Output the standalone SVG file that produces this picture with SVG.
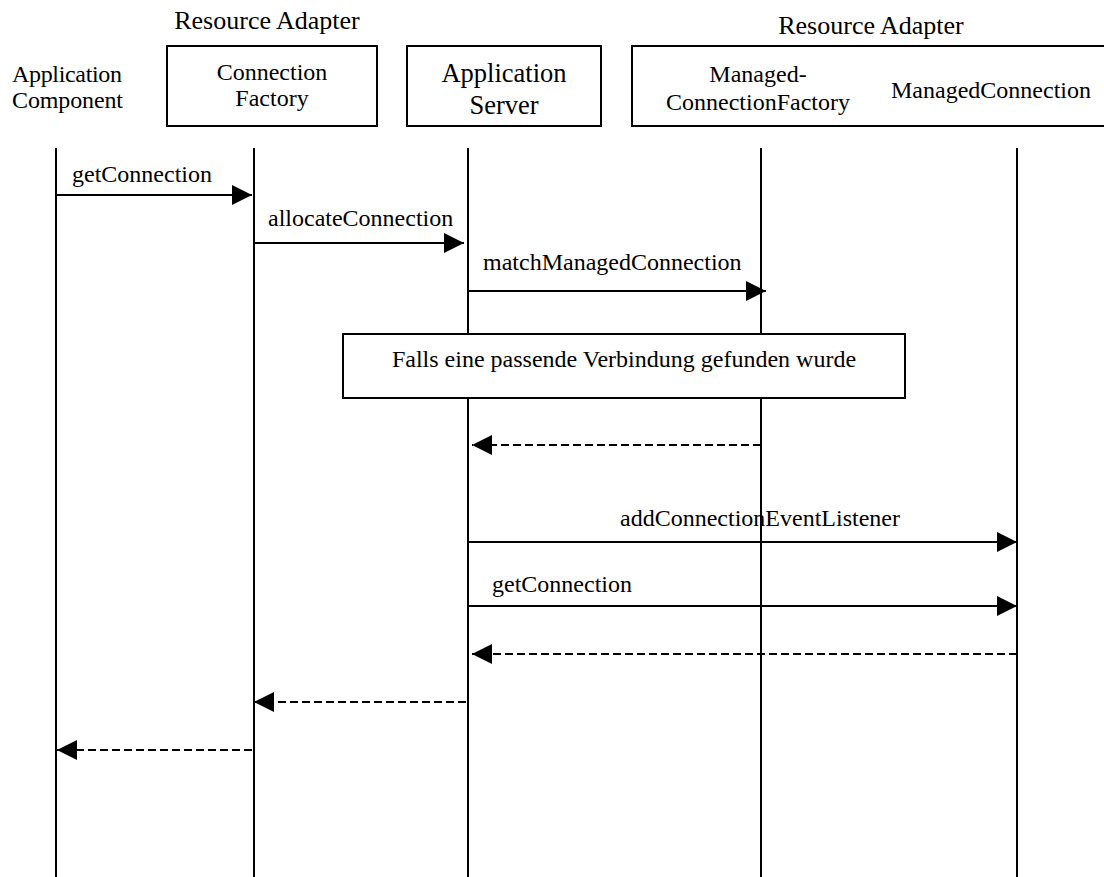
<svg xmlns="http://www.w3.org/2000/svg" width="1104" height="877" viewBox="0 0 1104 877">
<style>
text{font-family:"Liberation Serif","Times New Roman",serif;fill:#000}
.box{fill:#fff;stroke:#000;stroke-width:2}
.life{stroke:#000;stroke-width:2}
.msg{stroke:#000;stroke-width:2;fill:none}
.ret{stroke:#000;stroke-width:2;fill:none;stroke-dasharray:8,4}
.lbl{font-size:24px}
.hd{font-size:24px}
</style>
<defs>
<marker id="ah" viewBox="0 0 20 20" refX="20" refY="10" markerWidth="20" markerHeight="20" markerUnits="userSpaceOnUse" orient="auto">
<path d="M0,0 L20,10 L0,20 Z" fill="#000"/>
</marker>
</defs>
<rect width="1104" height="877" fill="#fff"/>
<g id="lifelines">
<line class="life" x1="56" y1="148" x2="56" y2="877"/>
<line class="life" x1="254" y1="148" x2="254" y2="877"/>
<line class="life" x1="468" y1="148" x2="468" y2="877"/>
<line class="life" x1="761" y1="148" x2="761" y2="877"/>
<line class="life" x1="1017" y1="148" x2="1017" y2="877"/>
</g>
<g id="app-component">
<text class="hd" x="12" y="82" textLength="110">Application</text>
<text class="hd" x="12" y="108" textLength="111">Component</text>
</g>
<g id="connection-factory">
<text x="267" y="29" font-size="26" text-anchor="middle">Resource Adapter</text>
<rect class="box" x="167" y="46" width="210" height="80"/>
<text class="hd" x="272" y="80" text-anchor="middle">Connection</text>
<text class="hd" x="272" y="106" text-anchor="middle">Factory</text>
</g>
<g id="application-server">
<rect class="box" x="407" y="46" width="194" height="80"/>
<text x="504" y="82" font-size="26.5" text-anchor="middle">Application</text>
<text x="504" y="114" font-size="26.5" text-anchor="middle">Server</text>
</g>
<g id="resource-adapter">
<text x="871" y="34" font-size="26" text-anchor="middle">Resource Adapter</text>
<rect class="box" x="632" y="46" width="480" height="80"/>
<text class="hd" x="758" y="82" text-anchor="middle">Managed-</text>
<text class="hd" x="758" y="110" text-anchor="middle">ConnectionFactory</text>
<text class="hd" x="991" y="98" text-anchor="middle">ManagedConnection</text>
</g>
<g id="connectors">
<line class="msg" x1="56" y1="195" x2="252" y2="195" marker-end="url(#ah)"/>
<text class="lbl" x="72" y="182">getConnection</text>
<line class="msg" x1="254" y1="243" x2="464" y2="243" marker-end="url(#ah)"/>
<text class="lbl" x="268" y="226">allocateConnection</text>
<line class="msg" x1="468" y1="291" x2="766" y2="291" marker-end="url(#ah)"/>
<text class="lbl" x="483" y="270">matchManagedConnection</text>
<line class="ret" x1="761" y1="445" x2="472" y2="445" marker-end="url(#ah)"/>
<line class="msg" x1="468" y1="542" x2="1017" y2="542" marker-end="url(#ah)"/>
<text class="lbl" x="760" y="526" text-anchor="middle">addConnectionEventListener</text>
<line class="msg" x1="468" y1="606" x2="1017" y2="606" marker-end="url(#ah)"/>
<text class="lbl" x="492" y="592">getConnection</text>
<line class="ret" x1="1017" y1="654" x2="472" y2="654" marker-end="url(#ah)"/>
<line class="ret" x1="466" y1="702" x2="254" y2="702" marker-end="url(#ah)"/>
<line class="ret" x1="252" y1="750" x2="57" y2="750" marker-end="url(#ah)"/>
</g>
<g id="condition">
<rect class="box" x="343" y="334" width="562" height="64"/>
<text x="624" y="367" font-size="24" text-anchor="middle">Falls eine passende Verbindung gefunden wurde</text>
</g>
</svg>
